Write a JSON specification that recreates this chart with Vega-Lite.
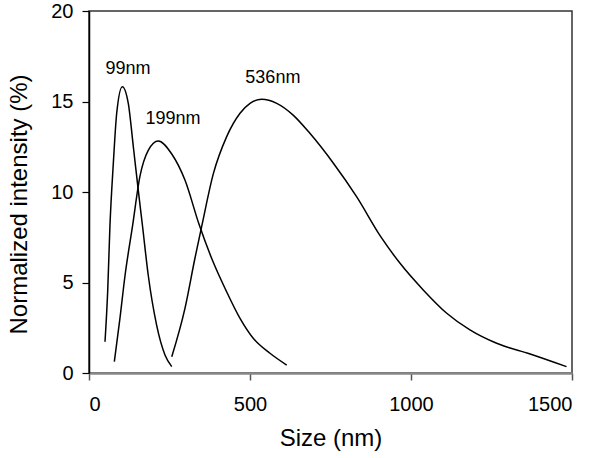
{
  "$schema": "https://vega.github.io/schema/vega-lite/v6.json",
  "width": 483,
  "height": 362,
  "autosize": {"type": "none"},
  "padding": {"left": 89, "top": 11, "right": 29, "bottom": 85},
  "background": "white",
  "config": {
    "view": {"stroke": "#333", "strokeWidth": 1.5},
    "font": "Liberation Sans"
  },
  "datasets": {
    "curves": [
      {"series": "99nm", "size": 49.7, "intensity": 1.73},
      {"series": "99nm", "size": 58, "intensity": 4.5},
      {"series": "99nm", "size": 65, "intensity": 8.1},
      {"series": "99nm", "size": 75.6, "intensity": 11.6},
      {"series": "99nm", "size": 86, "intensity": 14.35},
      {"series": "99nm", "size": 103.4, "intensity": 15.82},
      {"series": "99nm", "size": 122, "intensity": 14.9},
      {"series": "99nm", "size": 137.7, "intensity": 12.5},
      {"series": "99nm", "size": 153, "intensity": 10.1},
      {"series": "99nm", "size": 166, "intensity": 8.15},
      {"series": "99nm", "size": 184, "intensity": 5.4},
      {"series": "99nm", "size": 210, "intensity": 2.65},
      {"series": "99nm", "size": 236, "intensity": 1.0},
      {"series": "99nm", "size": 257, "intensity": 0.35},
      {"series": "199nm", "size": 78.7, "intensity": 0.63},
      {"series": "199nm", "size": 96, "intensity": 3.0},
      {"series": "199nm", "size": 112, "intensity": 5.4},
      {"series": "199nm", "size": 135, "intensity": 8.1},
      {"series": "199nm", "size": 158, "intensity": 10.85},
      {"series": "199nm", "size": 184, "intensity": 12.3},
      {"series": "199nm", "size": 215, "intensity": 12.82},
      {"series": "199nm", "size": 257, "intensity": 12.1},
      {"series": "199nm", "size": 298, "intensity": 10.66},
      {"series": "199nm", "size": 342, "intensity": 8.2},
      {"series": "199nm", "size": 384, "intensity": 6.2},
      {"series": "199nm", "size": 425, "intensity": 4.58},
      {"series": "199nm", "size": 469, "intensity": 3.02},
      {"series": "199nm", "size": 510, "intensity": 1.92},
      {"series": "199nm", "size": 562, "intensity": 1.09},
      {"series": "199nm", "size": 614, "intensity": 0.44},
      {"series": "536nm", "size": 257, "intensity": 0.9},
      {"series": "536nm", "size": 298, "intensity": 3.57},
      {"series": "536nm", "size": 329, "intensity": 6.34},
      {"series": "536nm", "size": 350, "intensity": 8.1},
      {"series": "536nm", "size": 386, "intensity": 11.0},
      {"series": "536nm", "size": 427.6, "intensity": 13.06},
      {"series": "536nm", "size": 469, "intensity": 14.35},
      {"series": "536nm", "size": 500, "intensity": 14.9},
      {"series": "536nm", "size": 536, "intensity": 15.12},
      {"series": "536nm", "size": 583, "intensity": 14.9},
      {"series": "536nm", "size": 634, "intensity": 14.25},
      {"series": "536nm", "size": 686, "intensity": 13.24},
      {"series": "536nm", "size": 759, "intensity": 11.59},
      {"series": "536nm", "size": 831, "intensity": 9.74},
      {"series": "536nm", "size": 906, "intensity": 7.53},
      {"series": "536nm", "size": 966, "intensity": 6.06},
      {"series": "536nm", "size": 1038, "intensity": 4.59},
      {"series": "536nm", "size": 1111, "intensity": 3.3},
      {"series": "536nm", "size": 1183, "intensity": 2.38},
      {"series": "536nm", "size": 1266, "intensity": 1.64},
      {"series": "536nm", "size": 1370, "intensity": 1.05},
      {"series": "536nm", "size": 1483, "intensity": 0.35}
    ],
    "labels": [
      {"label": "99nm", "size": 121, "intensity": 16.5},
      {"label": "199nm", "size": 261, "intensity": 13.76},
      {"label": "536nm", "size": 571, "intensity": 16.0}
    ]
  },
  "layer": [
    {
      "data": {"name": "curves"},
      "mark": {"type": "line", "color": "black", "strokeWidth": 1.5, "interpolate": "monotone"},
      "encoding": {
        "x": {
          "field": "size", "type": "quantitative",
          "scale": {"domain": [0, 1500], "nice": false, "zero": false},
          "axis": {
            "title": "Size (nm)", "values": [0, 500, 1000, 1500], "format": "d", "grid": false,
            "domainColor": "#888", "domainWidth": 2.5, "tickColor": "#555", "tickSize": 7, "tickWidth": 1.5,
            "labelFont": "Liberation Sans", "labelFontSize": 20, "labelColor": "black", "labelPadding": 14,
            "titleFont": "Liberation Sans", "titleFontSize": 24, "titleFontWeight": "normal", "titleColor": "black", "titlePadding": 12
          }
        },
        "y": {
          "field": "intensity", "type": "quantitative",
          "scale": {"domain": [0, 20], "nice": false},
          "axis": {
            "title": "Normalized intensity (%)", "values": [0, 5, 10, 15, 20], "grid": false,
            "domainColor": "black", "domainWidth": 1.5, "tickColor": "black", "tickSize": 7, "tickWidth": 1.2,
            "labelFont": "Liberation Sans", "labelFontSize": 20, "labelColor": "black", "labelPadding": 9,
            "titleFont": "Liberation Sans", "titleFontSize": 24, "titleFontWeight": "normal", "titleColor": "black",
            "titleX": -58, "titleY": 193
          }
        },
        "detail": {"field": "series"}
      }
    },
    {
      "data": {"name": "labels"},
      "mark": {"type": "text", "font": "Liberation Sans", "fontSize": 18, "color": "black", "baseline": "alphabetic", "align": "center"},
      "encoding": {
        "x": {"field": "size", "type": "quantitative"},
        "y": {"field": "intensity", "type": "quantitative"},
        "text": {"field": "label"}
      }
    }
  ]
}
